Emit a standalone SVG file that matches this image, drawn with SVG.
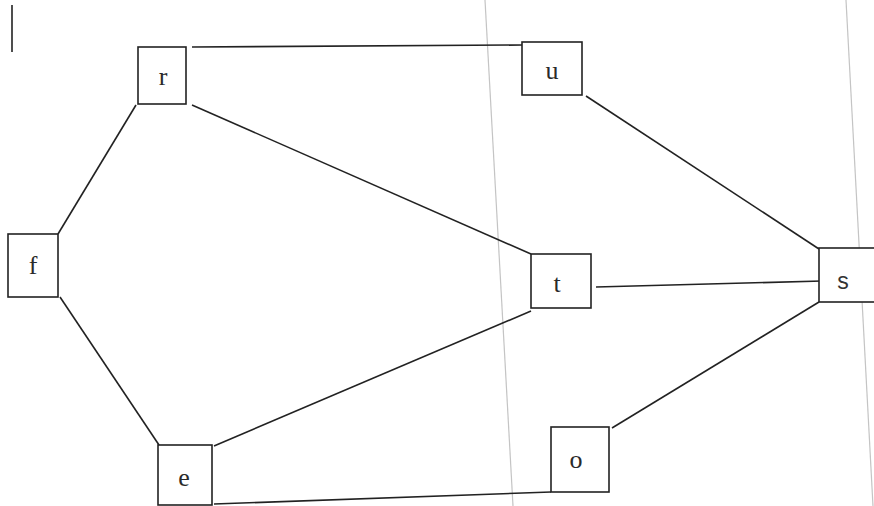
<svg xmlns="http://www.w3.org/2000/svg" width="874" height="506" viewBox="0 0 874 506">
<style>
.box{fill:#fff;stroke:#222;stroke-width:1.6}
.edge{stroke:#222;stroke-width:1.6;fill:none}
.scan{stroke:#c4c4c4;stroke-width:1.2;fill:none}
.lbl{font-family:"Liberation Serif",serif;font-size:26px;fill:#2a2a2a;text-anchor:middle;dominant-baseline:central}
.lbls{font-family:"Liberation Sans",sans-serif;font-size:23px;fill:#333;text-anchor:middle;dominant-baseline:central}
</style>
<rect width="874" height="506" fill="#fff"/>
<line class="scan" x1="485" y1="0" x2="513" y2="506"/>
<line class="scan" x1="846" y1="0" x2="873" y2="506"/>
<line x1="12" y1="5" x2="12" y2="52" stroke="#222" stroke-width="1.6"/>
<g id="connectors">
<line class="edge" x1="192" y1="47" x2="522" y2="45"/>
<line class="edge" x1="586" y1="96" x2="819" y2="249"/>
<line class="edge" x1="136" y1="105" x2="58" y2="234"/>
<line class="edge" x1="60" y1="297" x2="159" y2="445"/>
<line class="edge" x1="192" y1="105" x2="531" y2="254"/>
<line class="edge" x1="214" y1="446" x2="531" y2="311"/>
<line class="edge" x1="596" y1="287" x2="822" y2="281"/>
<line class="edge" x1="612" y1="428" x2="819" y2="302"/>
<line class="edge" x1="214" y1="504" x2="551" y2="492"/>
</g>
<g id="node-r"><rect class="box" x="138" y="47" width="48" height="57"/><text class="lbl" x="163" y="76">r</text></g>
<g id="node-u"><rect class="box" x="522" y="42" width="60" height="53"/><text class="lbl" x="552" y="70">u</text></g>
<g id="node-f"><rect class="box" x="8" y="234" width="50" height="63"/><text class="lbl" x="33" y="265">f</text></g>
<g id="node-t"><rect class="box" x="531" y="254" width="60" height="54"/><text class="lbl" x="557" y="283">t</text></g>
<g id="node-s"><rect class="box" x="819" y="248" width="70" height="54"/><text class="lbls" x="843" y="281">s</text></g>
<g id="node-e"><rect class="box" x="158" y="445" width="54" height="60"/><text class="lbl" x="184" y="477">e</text></g>
<g id="node-o"><rect class="box" x="551" y="427" width="58" height="65"/><text class="lbl" x="576" y="459">o</text></g>
</svg>
